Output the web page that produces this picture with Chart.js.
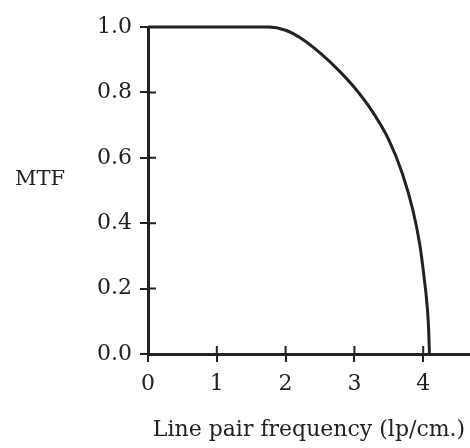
<!DOCTYPE html>
<html>
<head>
<meta charset="utf-8">
<script src="https://cdn.jsdelivr.net/npm/chart.js@4/dist/chart.umd.min.js"></script>
<style>
  html, body { margin: 0; padding: 0; background: #ffffff; }
  #wrap { width: 470px; height: 448px; }
</style>
</head>
<body>
<div id="wrap"><canvas id="c" width="470" height="448"></canvas></div>
<script>
// Data
const freq = [0, 1.0, 1.75, 2.0, 2.25, 2.5, 2.75, 3.0, 3.25, 3.5, 3.7, 3.85, 3.95, 4.0, 4.06, 4.08, 4.09];
const mtf  = [1.0, 1.0, 1.0, 0.99, 0.962, 0.921, 0.872, 0.815, 0.745, 0.655, 0.55, 0.44, 0.335, 0.257, 0.14, 0.07, 0.0];
const xTickValues = [0, 1, 2, 3, 4];
const yTickValues = [0, 0.2, 0.4, 0.6, 0.8, 1.0];
const xTitle = 'Line pair frequency (lp/cm.)';
const yTitle = 'MTF';

const INK = '#222222';
const FONT = "'DejaVu Serif', 'Liberation Serif', serif";

const points = freq.map((f, i) => ({ x: f, y: mtf[i] }));

const innerTicks = {
  id: 'innerTicks',
  afterDatasetsDraw(chart) {
    const { ctx, chartArea, scales } = chart;
    ctx.save();
    ctx.strokeStyle = INK;
    ctx.lineWidth = 2;
    ctx.beginPath();
    scales.y.ticks.forEach(t => {
      const py = scales.y.getPixelForValue(t.value);
      ctx.moveTo(chartArea.left, py);
      ctx.lineTo(chartArea.left + 8, py);
    });
    scales.x.ticks.forEach(t => {
      const px = scales.x.getPixelForValue(t.value);
      ctx.moveTo(px, chartArea.bottom);
      ctx.lineTo(px, chartArea.bottom - 8);
    });
    ctx.stroke();
    // horizontal y-axis title
    ctx.fillStyle = INK;
    ctx.font = '21px ' + FONT;
    ctx.textAlign = 'left';
    ctx.textBaseline = 'middle';
    ctx.fillText(yTitle, 15, scales.y.getPixelForValue(0.535));
    ctx.restore();
  }
};

new Chart(document.getElementById('c'), {
  type: 'line',
  data: {
    datasets: [{
      data: points,
      borderColor: INK,
      borderWidth: 3,
      pointRadius: 0,
      fill: false,
      cubicInterpolationMode: 'monotone',
      clip: false
    }]
  },
  options: {
    responsive: false,
    animation: false,
    events: [],
    layout: { padding: { top: 27, right: 0, bottom: 0, left: 0 } },
    plugins: { legend: { display: false }, tooltip: { enabled: false } },
    scales: {
      x: {
        type: 'linear',
        min: 0,
        max: 4.68,
        afterFit(scale) { scale.height = 94; },
        afterBuildTicks(scale) { scale.ticks = xTickValues.map(v => ({ value: v })); },
        ticks: {
          stepSize: 1,
          includeBounds: false,
          padding: 9,
          color: INK,
          font: { family: FONT, size: 22 },
          maxRotation: 0,
          callback: v => String(v)
        },
        grid: { drawOnChartArea: false, drawTicks: true, tickLength: 8, lineWidth: 2, color: INK },
        border: { display: true, color: INK, width: 3 },
        title: {
          display: true,
          text: xTitle,
          color: INK,
          font: { family: FONT, size: 22 },
          padding: { top: 0, bottom: 5 }
        }
      },
      y: {
        type: 'linear',
        min: 0,
        max: 1.0,
        afterFit(scale) { scale.width = 148; },
        afterBuildTicks(scale) { scale.ticks = yTickValues.map(v => ({ value: v })); },
        ticks: {
          stepSize: 0.2,
          padding: 8,
          color: INK,
          font: { family: FONT, size: 22 },
          callback: v => Number(v).toFixed(1)
        },
        grid: { drawOnChartArea: false, drawTicks: true, tickLength: 8, lineWidth: 2, color: INK },
        border: { display: true, color: INK, width: 3 }
      }
    }
  },
  plugins: [innerTicks]
});
</script>
</body>
</html>
